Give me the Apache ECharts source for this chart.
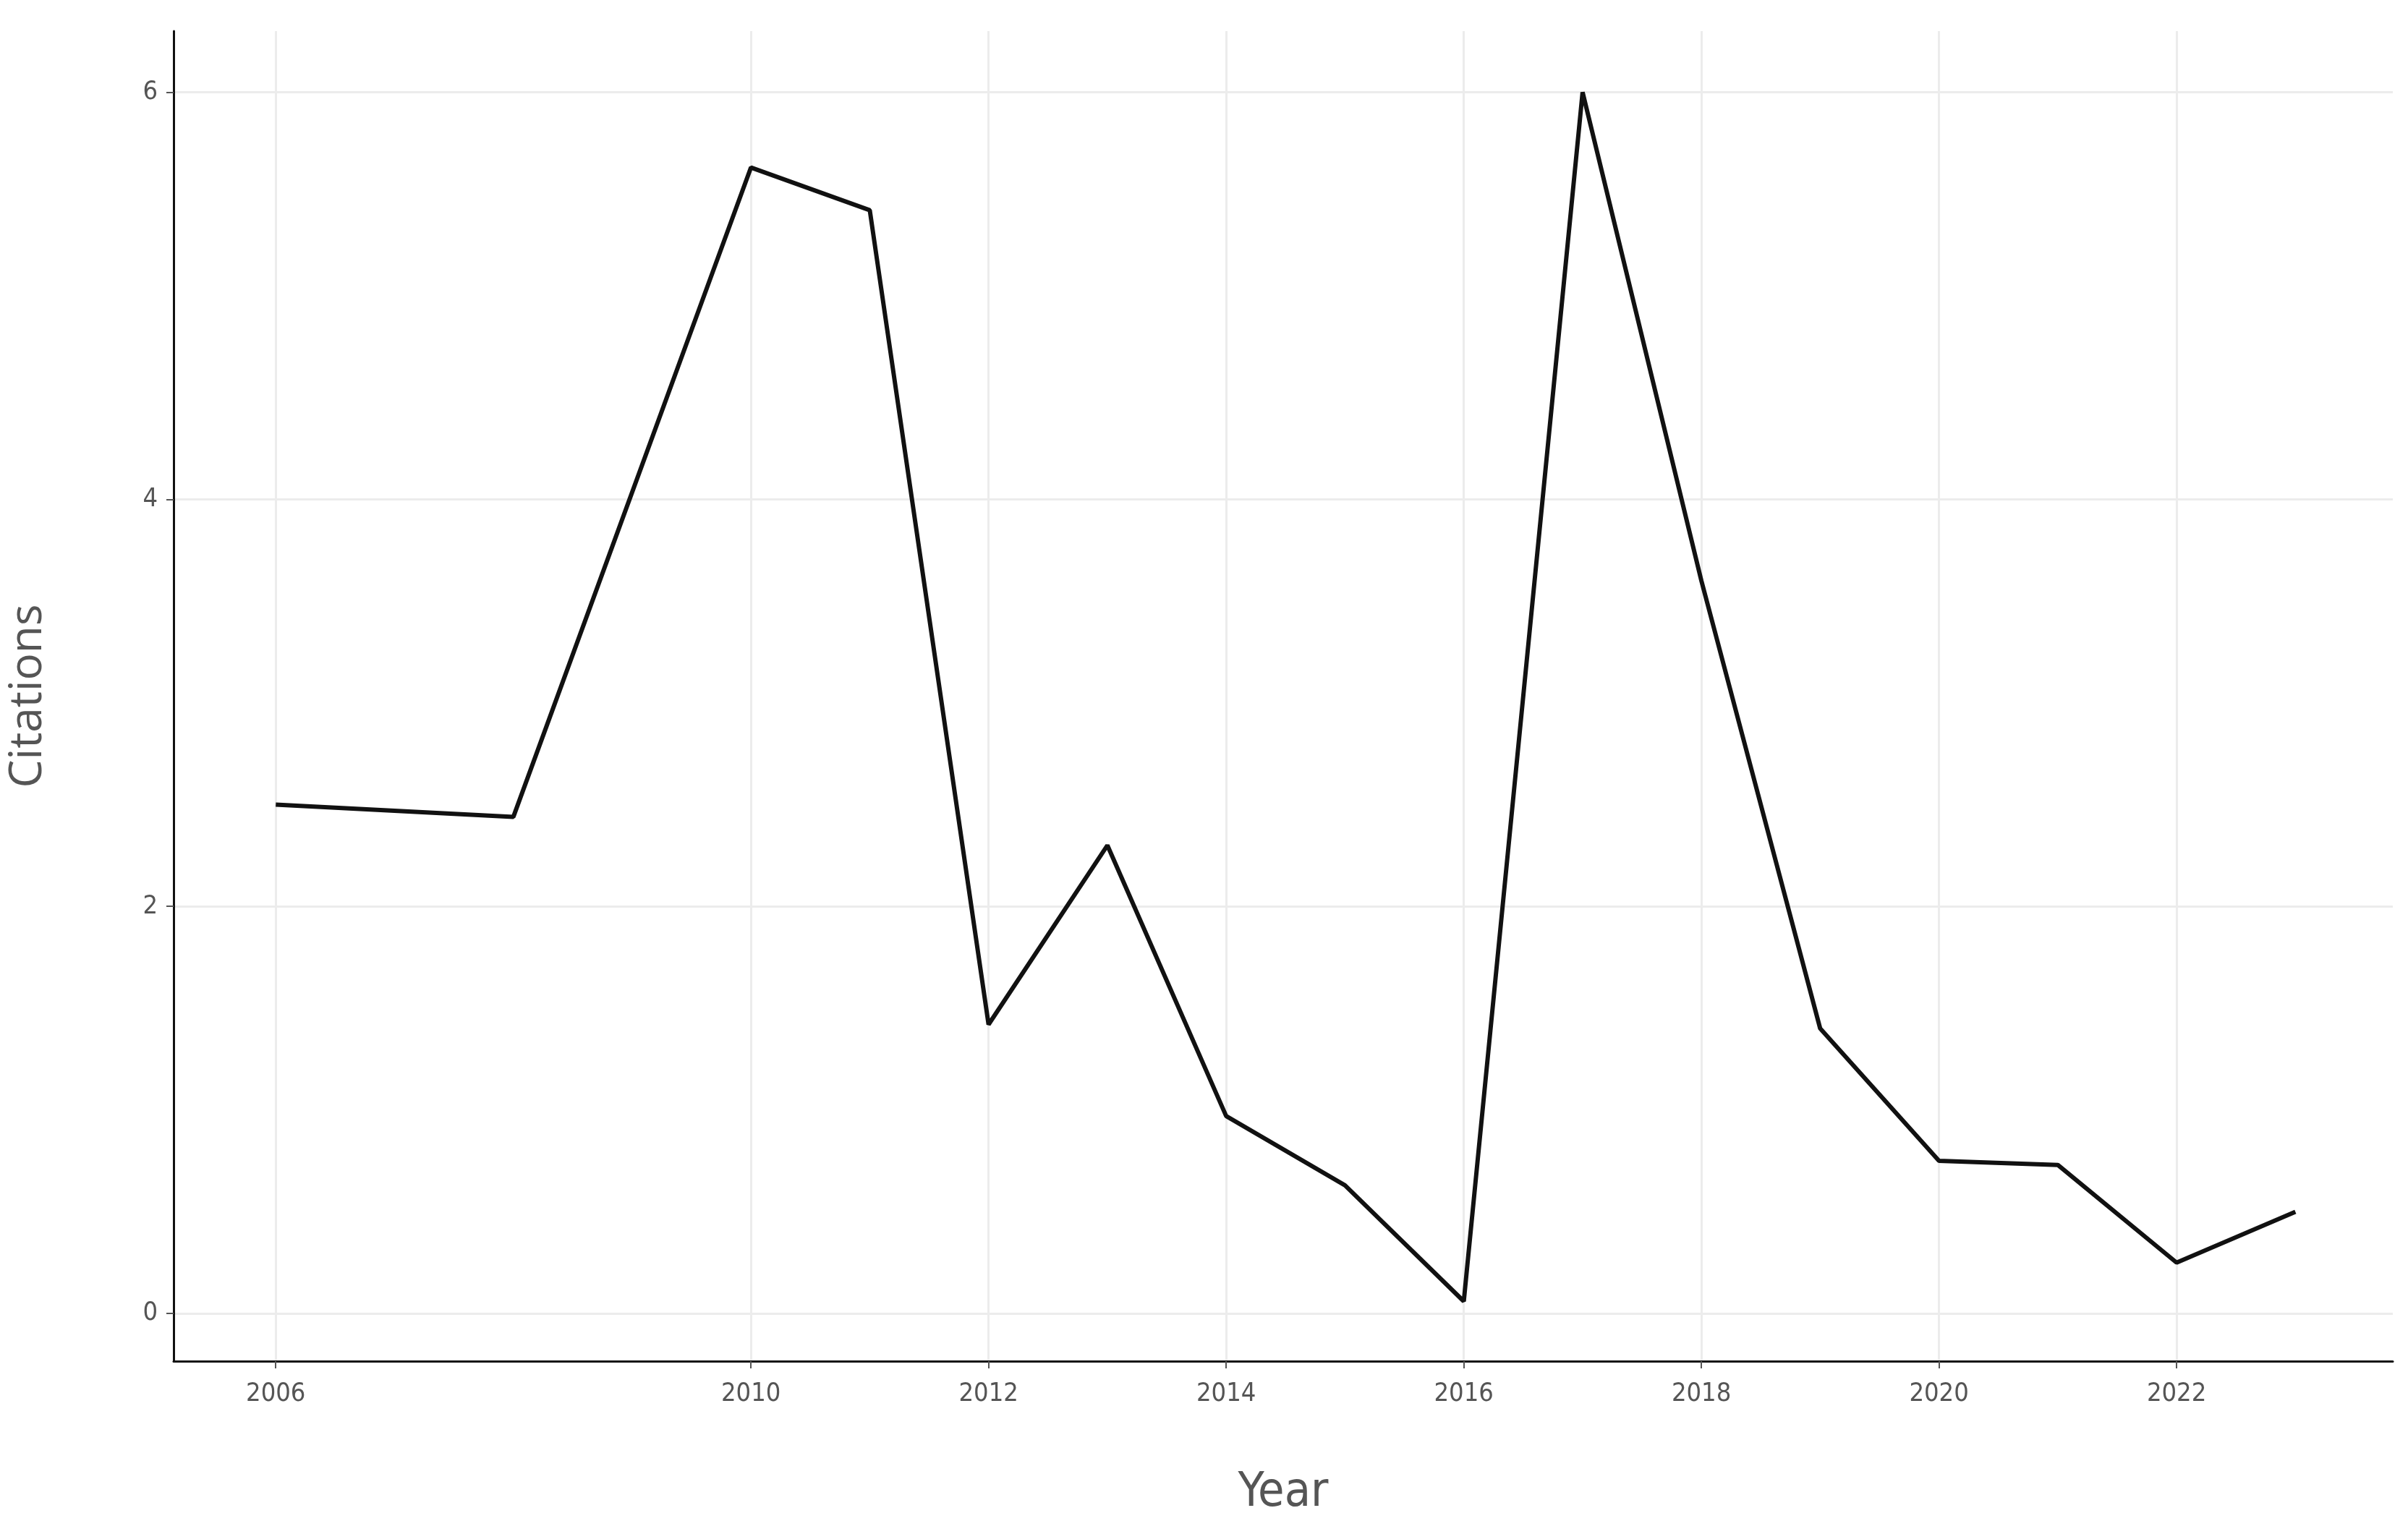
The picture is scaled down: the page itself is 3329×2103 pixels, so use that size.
<!DOCTYPE html>
<html>
<head>
<meta charset="utf-8">
<script src="https://cdn.jsdelivr.net/npm/echarts@6/dist/echarts.min.js"></script>
<style>html,body{margin:0;padding:0;background:#fff}#chart{width:3329px;height:2103px}</style>
</head>
<body>
<div id="chart"></div>
<script>
var years = [2006, 2008, 2010, 2011, 2012, 2013, 2014, 2015, 2016, 2017, 2018, 2019, 2020, 2021, 2022, 2023];
var citations = [2.5, 2.44, 5.63, 5.42, 1.42, 2.3, 0.97, 0.63, 0.06, 6.0, 3.6, 1.4, 0.75, 0.73, 0.25, 0.5];
var xTicks = [2006, 2010, 2012, 2014, 2016, 2018, 2020, 2022];
var yTicks = [0, 2, 4, 6];

var chart = echarts.init(document.getElementById('chart'));
var pts = years.map(function(y, i){ return [y, citations[i]]; });
chart.setOption({
	animation: false,
	grid: {left: 235, right: 21, top: 43, bottom: 212},
	xAxis: {
		type: 'value', min: 2005.14, max: 2023.82,
		name: 'Year', nameLocation: 'middle', nameGap: 150,
		nameTextStyle: {fontFamily: 'DejaVu Sans Condensed', fontSize: 66, color: '#555'},
		axisLine: {show: true, onZero: false, lineStyle: {color: '#111', width: 3}},
		axisTick: {show: true, customValues: xTicks, length: 10, lineStyle: {color: '#555', width: 2}},
		axisLabel: {customValues: xTicks, formatter: function(v){ return String(v); },
			fontFamily: 'DejaVu Sans Condensed', fontSize: 36, color: '#555', margin: 28},
		splitLine: {show: true, lineStyle: {color: '#ececec', width: 3}}
	},
	yAxis: {
		type: 'value', min: -0.234, max: 6.3,
		name: 'Citations', nameLocation: 'middle', nameGap: 170, nameRotate: 90,
		nameTextStyle: {fontFamily: 'Open Sans', fontSize: 62, color: '#555'},
		axisLine: {show: true, onZero: false, lineStyle: {color: '#111', width: 3}},
		axisTick: {show: true, customValues: yTicks, length: 10, lineStyle: {color: '#555', width: 2}},
		axisLabel: {customValues: yTicks, fontFamily: 'DejaVu Sans Condensed', fontSize: 36, color: '#555', margin: 22},
		splitLine: {show: true, lineStyle: {color: '#ececec', width: 3}}
	},
	series: [{
		type: 'line', data: pts, showSymbol: false,
		lineStyle: {color: '#111', width: 6}
	}]
});
</script>
</body>
</html>
